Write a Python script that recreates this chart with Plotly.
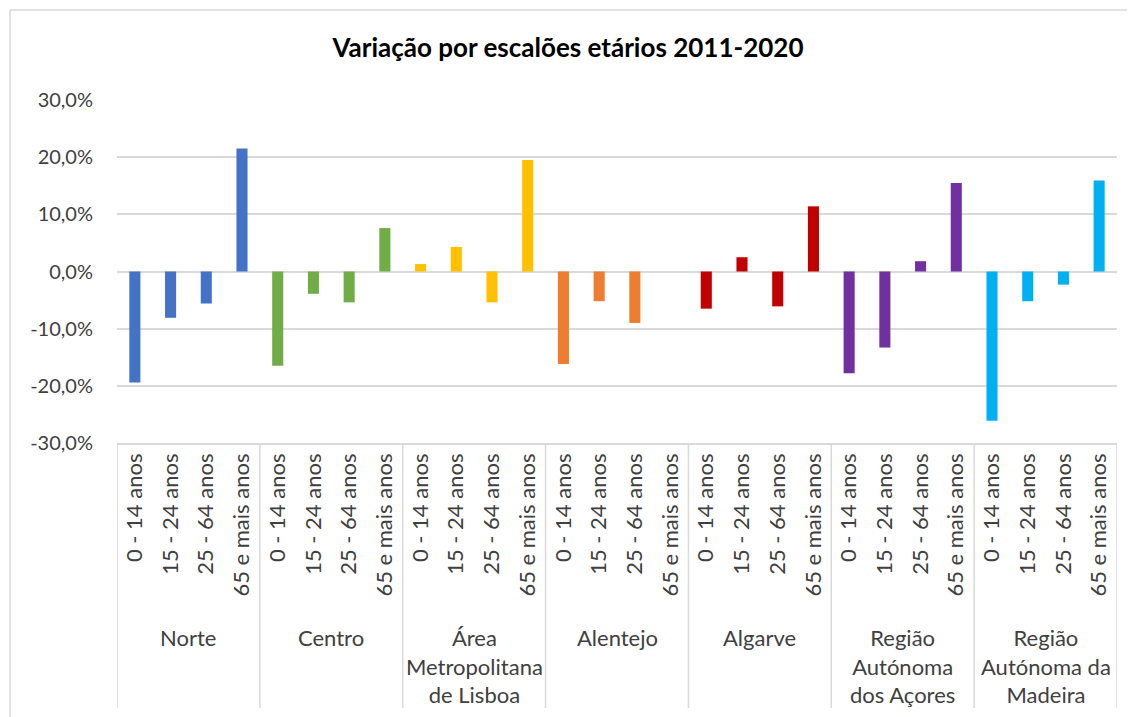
import plotly.graph_objects as go

# Dados: variação por escalões etários 2011-2020, por região (NUTS II)
regioes = ["Norte", "Centro", "Área<br>Metropolitana<br>de Lisboa", "Alentejo",
           "Algarve", "Região<br>Autónoma<br>dos Açores", "Região<br>Autónoma da<br>Madeira"]
escaloes = ["0 - 14 anos", "15 - 24 anos", "25 - 64 anos", "65 e mais anos"]

norte = [-0.194, -0.081, -0.056, 0.215]
centro = [-0.165, -0.039, -0.054, 0.076]
lisboa = [0.013, 0.043, -0.054, 0.195]
alentejo = [-0.162, -0.052, -0.090, 0.0]
algarve = [-0.065, 0.025, -0.061, 0.114]
acores = [-0.178, -0.133, 0.018, 0.155]
madeira = [-0.261, -0.052, -0.023, 0.159]

cores = ["#4472C4", "#70AD47", "#FFC000", "#ED7D31", "#C00000", "#7030A0", "#00B0F0"]

y_ticks = [-0.3, -0.2, -0.1, 0.0, 0.1, 0.2, 0.3]
y_labels = ["-30,0%", "-20,0%", "-10,0%", "0,0%", "10,0%", "20,0%", "30,0%"]

series = [norte, centro, lisboa, alentejo, algarve, acores, madeira]

# achatar em posições de categoria
valores, cor_barras, rotulos = [], [], []
for s, c in zip(series, cores):
    valores += s
    cor_barras += [c] * len(s)
    rotulos += escaloes
posicoes = list(range(len(valores)))
n = len(escaloes)

FONT = "Lato"
TXT = "#404040"
GRID = "#d9d9d9"

# a página tem 8px de margem no body -> coordenadas deslocadas
OFF = 8
W, H = 1135 - OFF, 717 - OFF
PLOT_L, PLOT_R = 117 - OFF, 1117 - OFF
PLOT_TOP, PLOT_BOT = 100 - OFF, 443 - OFF
pw = PLOT_R - PLOT_L
ph = PLOT_BOT - PLOT_TOP

def py(pix):
    return (PLOT_BOT - (pix - OFF)) / ph

def px_(pix):
    return ((pix - OFF) - PLOT_L) / pw

fig = go.Figure(go.Bar(
    x=posicoes,
    y=valores,
    marker=dict(color=cor_barras, line=dict(width=0)),
    width=0.31,
    hovertemplate="%{y:.1%}<extra></extra>",
))

shapes = []
for k in range(len(regioes) + 1):
    xd = k * n - 0.5
    shapes.append(dict(type="line", xref="x", yref="paper", x0=xd, x1=xd,
                       y0=0, y1=py(708), line=dict(color=GRID, width=1.5)))
# moldura exterior
shapes.append(dict(type="line", xref="paper", yref="paper",
                   x0=px_(10), x1=px_(1140), y0=py(10), y1=py(10),
                   line=dict(color=GRID, width=1.5)))
shapes.append(dict(type="line", xref="paper", yref="paper",
                   x0=px_(10), x1=px_(10), y0=py(10), y1=py(725),
                   line=dict(color=GRID, width=1.5)))

annotations = []
for k, r in enumerate(regioes):
    annotations.append(dict(
        x=k * n + (n - 1) / 2, xref="x", y=py(622), yref="paper",
        text=r, showarrow=False, yanchor="top", xanchor="center",
        font=dict(family=FONT, size=22, color=TXT),
    ))

fig.update_layout(
    width=W,
    height=H,
    margin=dict(l=PLOT_L, r=W - PLOT_R, t=PLOT_TOP, b=H - PLOT_BOT),
    paper_bgcolor="white",
    plot_bgcolor="white",
    showlegend=False,
    title=dict(text="<b>Variação por escalões etários 2011-2020</b>",
               xref="container", x=(568 - OFF) / W, xanchor="center",
               yref="container", y=1 - (48 - OFF) / H, yanchor="middle",
               font=dict(family=FONT, size=26, color="#000000")),
    xaxis=dict(
        range=[-0.5, len(valores) - 0.5],
        tickvals=posicoes,
        ticktext=rotulos,
        tickangle=-90,
        tickfont=dict(family=FONT, size=22, color=TXT),
        showgrid=False,
        zeroline=False,
        showline=True,
        linecolor=GRID,
        linewidth=1.5,
        ticks="",
        fixedrange=True,
    ),
    yaxis=dict(
        range=[-0.30, 0.30],
        tickvals=y_ticks,
        ticktext=y_labels,
        tickfont=dict(family=FONT, size=20, color=TXT),
        showgrid=True,
        gridcolor=GRID,
        gridwidth=1.5,
        zeroline=True,
        zerolinecolor=GRID,
        zerolinewidth=1.5,
        ticks="",
        ticklabelstandoff=23,
        fixedrange=True,
    ),
    shapes=shapes,
    annotations=annotations,
)

fig.write_html("out.html")
